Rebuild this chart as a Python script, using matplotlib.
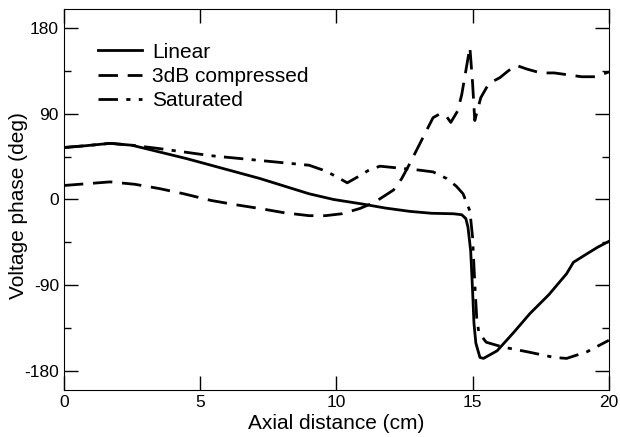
import numpy as np
import matplotlib.pyplot as plt

plt.rcParams['font.family'] = ['Liberation Sans', 'DejaVu Sans']
plt.rcParams['axes.unicode_minus'] = False

# Linear
x_lin = [0, 0.8, 1.7, 2.5, 3.5, 4.5, 5.4, 6.3, 7.2, 8.1, 9.0, 9.9, 10.9, 11.8,
         12.7, 13.5, 14.3, 14.6, 14.75, 14.83, 14.93, 15.0, 15.05, 15.12, 15.27,
         15.4, 15.9, 16.5, 17.1, 17.8, 18.45, 18.7, 19.2, 19.6, 20]
y_lin = [54.6, 56.5, 59, 57, 50, 43, 36, 29, 22, 14, 6, 0, -4.5, -9,
         -12.5, -14.5, -15, -16, -20, -29, -54, -96, -130, -151, -166,
         -167, -159, -140, -120, -100, -78, -66, -57, -50, -44]

# 3dB compressed
x_3db = [0, 0.8, 1.7, 2.6, 3.5, 4.4, 5.4, 6.3, 7.2, 8.1, 9.0, 9.6, 10.2, 10.86,
         11.4, 12.1, 12.4, 12.7, 13.0, 13.3, 13.55, 13.8, 14.0, 14.2, 14.45,
         14.6, 14.75, 14.9, 15.0, 15.08, 15.3, 15.6, 16.0, 16.3, 16.6, 17.0,
         17.5, 18.0, 18.5, 19.0, 19.5, 20]
y_3db = [14.7, 16.5, 18.5, 16, 11.5, 6, -1, -5.5, -9.5, -14, -17, -17, -15, -9.5,
         -3, 10, 22, 38, 55, 72, 86, 90, 89, 81, 93,
         110, 135, 160, 122, 83, 107, 122, 128, 135, 141, 137,
         133, 133, 131, 129, 129, 134]

# Saturated
x_sat = [0, 0.8, 1.7, 2.5, 3.5, 5.4, 7.2, 9.0, 9.6, 10.0, 10.4, 10.8, 11.2,
         11.6, 12.3, 13, 13.55, 14.05, 14.4, 14.65, 14.9, 15.0, 15.08, 15.15,
         15.23, 15.5, 16.1, 17.0, 18.0, 18.45, 19.2, 20]
y_sat = [54.6, 56.5, 59, 57, 53.5, 46, 41, 36, 30, 24, 17.5, 24, 31,
         35, 33, 31, 29, 22, 14, 6, -12, -40, -88, -124,
         -140, -150, -155, -160, -166, -167, -160, -148]

fig = plt.figure(figsize=(6.2, 4.37), dpi=100)
ax = fig.add_axes([0.103, 0.108, 0.879, 0.871])

lw = 2.0
ax.plot(x_lin, y_lin, color='black', lw=lw, label='Linear')
ax.plot(x_3db, y_3db, color='black', lw=lw, dashes=(7, 3.5), label='3dB compressed')
ax.plot(x_sat, y_sat, color='black', lw=lw, dashes=(7, 3, 1.5, 3), label='Saturated')

ax.set_xlim(0, 20)
ax.set_ylim(-200, 200)
ax.set_xticks([0, 5, 10, 15, 20])
ax.set_yticks([-180, -90, 0, 90, 180])
ax.set_yticks(np.arange(-135, 180, 90), minor=True)
ax.tick_params(which='both', direction='in', top=True, right=True, labelsize=12.5)
ax.tick_params(which='major', length=10, width=1)
ax.tick_params(which='minor', length=5, width=1)
ax.set_xlabel('Axial distance (cm)', fontsize=15, labelpad=3)
ax.set_ylabel('Voltage phase (deg)', fontsize=15)
ax.yaxis.set_label_coords(-0.066, 0.485)

ax.legend(loc='upper left', bbox_to_anchor=(0.047, 0.934), frameon=False, fontsize=15,
          handlelength=2.1, labelspacing=0.25, handletextpad=0.5, borderaxespad=0)

fig.savefig('out.png', dpi=100)
